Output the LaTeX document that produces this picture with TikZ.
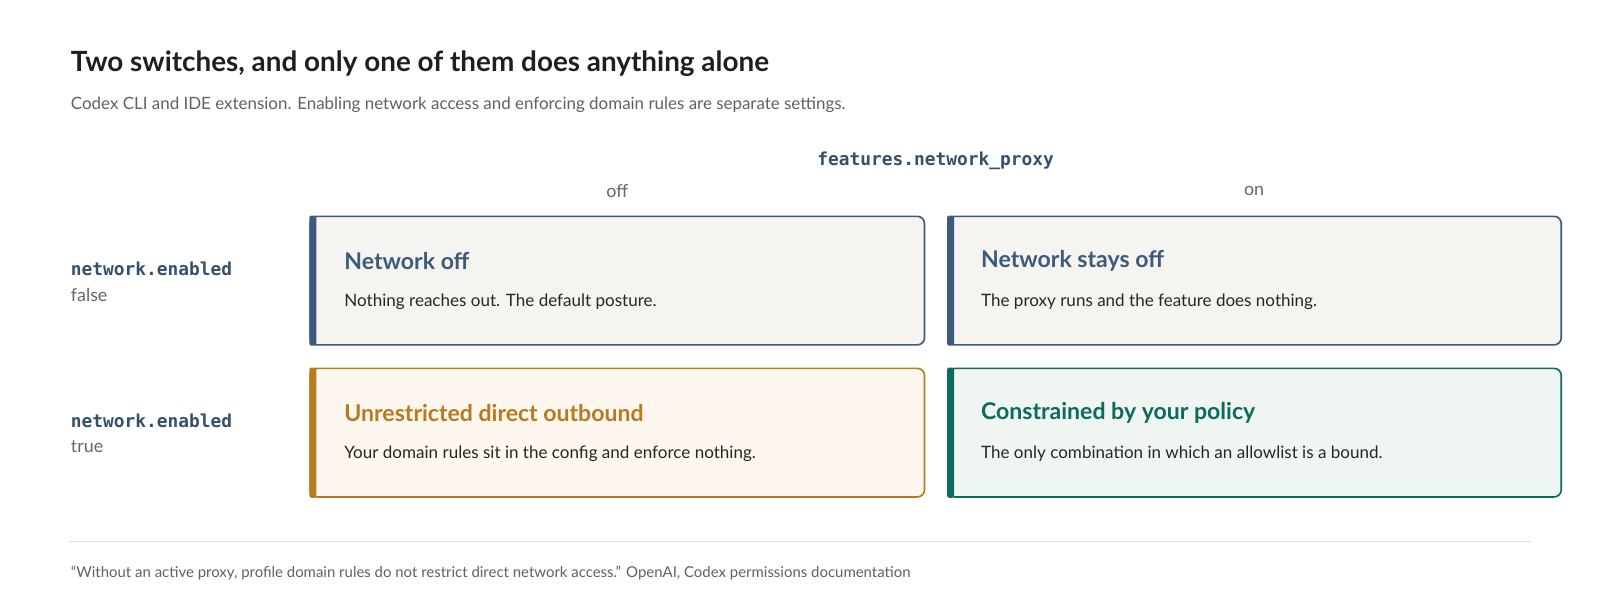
\documentclass[tikz,border=0pt]{standalone}
\usepackage{fontspec}
\setmainfont{Lato}
\setmonofont{DejaVu Sans Mono}
\definecolor{bl}{HTML}{3B5B7D}\definecolor{blf}{HTML}{F5F4F0}
\definecolor{orc}{HTML}{B8791F}\definecolor{orf}{HTML}{FDF7F0}
\definecolor{tl}{HTML}{0B6B5E}\definecolor{tlf}{HTML}{EFF6F2}
\definecolor{keyc}{HTML}{34506E}
\newcommand{\cardbox}[6]{%
 \draw[#5,fill=#6,line width=1.6pt,rounded corners=7pt] (#1,#2) rectangle (#3,#4);
 \fill[#5,rounded corners=2pt] (#1-0.8,#2-0.8) rectangle (#1+6,#4+0.8);}
\begin{document}
\begin{tikzpicture}[x=1pt,y=-1pt,
  ttl/.style={anchor=west,font=\fontsize{22.6}{26}\selectfont\bfseries},
  bdy/.style={anchor=west,text=black!85,font=\fontsize{16.7}{20}\selectfont},
  lab/.style={anchor=west,text=black!60,font=\fontsize{17.5}{20}\selectfont},
  key/.style={anchor=west,text=keyc,font=\fontsize{17.5}{20}\selectfont\ttfamily\bfseries}]
\fill[white] (0,0) rectangle (1568,598);
\node[anchor=west,text=black!88,font=\fontsize{27.3}{31}\selectfont\bfseries] (title) at (66,62) {Two switches, and only one of them does anything alone};
\node[anchor=west,text=black!62,font=\fontsize{16.6}{19}\selectfont] (sub) at (66,103) {Codex CLI and IDE extension. Enabling network access and enforcing domain rules are separate settings.};
\node[key,anchor=center] (fp) at (917,158) {features.network\_proxy};
\node[lab,anchor=center] (off) at (605,187) {off};
\node[lab,anchor=center] (on) at (1229,187) {on};
\node[key] (k1) at (66,263) {network.enabled};
\node[lab] (v1) at (66,289) {false};
\node[key] (k2) at (66,412) {network.enabled};
\node[lab] (v2) at (66,438) {true};
\cardbox{304}{212}{906}{338}{bl}{blf}
\cardbox{929}{212}{1530}{338}{bl}{blf}
\cardbox{304}{361}{906}{487}{orc}{orf}
\cardbox{929}{361}{1530}{487}{tl}{tlf}
\node[ttl,text=bl] (t1) at (334,256) {Network off};
\node[bdy] (b1) at (334,296) {Nothing reaches out. The default posture.};
\node[ttl,text=bl] (t2) at (958,256) {Network stays off};
\node[bdy] (b2) at (958,296) {The proxy runs and the feature does nothing.};
\node[ttl,text=orc] (t3) at (334,405) {Unrestricted direct outbound};
\node[bdy] (b3) at (334,445) {Your domain rules sit in the config and enforce nothing.};
\node[ttl,text=tl] (t4) at (958,405) {Constrained by your policy};
\node[bdy] (b4) at (958,445) {The only combination in which an allowlist is a bound.};
\draw[black!12,line width=1pt] (68,531) -- (1500,531);
\node[anchor=west,text=black!62,font=\fontsize{14.65}{17}\selectfont] (ft) at (66,562) {“Without an active proxy, profile domain rules do not restrict direct network access.” OpenAI, Codex permissions documentation};
\pgfresetboundingbox
\path[use as bounding box] (0,0) rectangle (1568,598);
\end{tikzpicture}
\end{document}
